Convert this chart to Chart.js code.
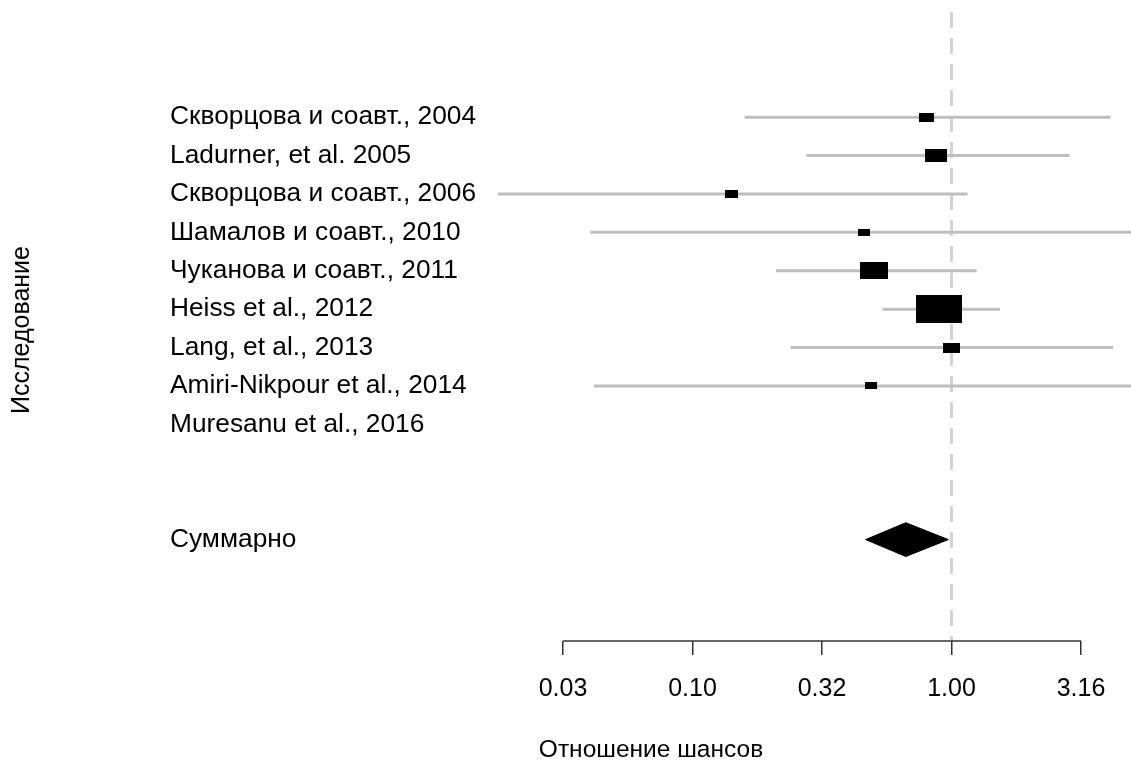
<!DOCTYPE html>
<html>
<head>
<meta charset="utf-8">
<script src="https://cdn.jsdelivr.net/npm/chart.js@4.4.1/dist/chart.umd.min.js"></script>
<style>
html,body{margin:0;padding:0;background:#fff;overflow:hidden}
canvas{display:block}
</style>
</head>
<body>
<canvas id="c" width="1131" height="764"></canvas>
<script>
// ---- data ----
const studies = [
  'Скворцова и соавт., 2004',
  'Ladurner, et al. 2005',
  'Скворцова и соавт., 2006',
  'Шамалов и соавт., 2010',
  'Чуканова и соавт., 2011',
  'Heiss et al., 2012',
  'Lang, et al., 2013',
  'Amiri-Nikpour et al., 2014',
  'Muresanu et al., 2016'
];
const oddsRatio = [0.80, 0.871, 0.1417, 0.461, 0.503, 0.892, 1.00, 0.488, null];
const ciLower   = [0.159, 0.275, 0.0177, 0.0403, 0.210, 0.542, 0.239, 0.0416, null];
const ciUpper   = [4.11, 2.86, 1.153, 7.5, 1.251, 1.539, 4.21, 7.0, null];
const weights   = [9.0, 13.2, 7.6, 7.4, 17.0, 27.6, 10.0, 7.4, null];
const summaryLabel = 'Суммарно';
const summaryOR = [0.666];
const summaryLower = [0.466];
const summaryUpper = [0.972];
const tickExponents = [-1.5, -1, -0.5, 0, 0.5];
const tickLabels = ['0.03', '0.10', '0.32', '1.00', '3.16'];
const xTitle = 'Отношение шансов';
const yTitle = 'Исследование';

// ---- layout / style ----
const FONT = '"Liberation Sans", Arial, sans-serif';
const X_MIN = Math.pow(10, -1.782);
const X_MAX = Math.pow(10, 0.693);
const Y_MIN = -4.64, Y_MAX = 12.05;
const SUMMARY_ROW = -2;
const DIAMOND_HALF = 0.44;
const rows = studies.map((_, i) => studies.length - i);

function boxCanvas(w) {
  const bw = Math.max(2, Math.round(w * 1.667));
  const bh = Math.max(2, Math.round(bw * 0.6));
  const c = document.createElement('canvas');
  c.width = bw; c.height = bh;
  const g = c.getContext('2d');
  g.fillStyle = '#000';
  g.fillRect(0, 0, bw, bh);
  return c;
}

const datasets = [];
// boxes (on top)
const boxPts = [], boxStyles = [];
studies.forEach((s, i) => {
  if (oddsRatio[i] == null) return;
  boxPts.push({x: oddsRatio[i], y: rows[i]});
  boxStyles.push(boxCanvas(weights[i]));
});
datasets.push({
  data: boxPts, pointStyle: boxStyles, pointRadius: 5, pointHoverRadius: 5,
  showLine: false, order: 0
});
// summary diamond
datasets.push({
  data: [
    {x: summaryLower[0], y: SUMMARY_ROW},
    {x: summaryOR[0], y: SUMMARY_ROW + DIAMOND_HALF},
    {x: summaryUpper[0], y: SUMMARY_ROW},
    {x: summaryOR[0], y: SUMMARY_ROW - DIAMOND_HALF},
    {x: summaryLower[0], y: SUMMARY_ROW}
  ],
  showLine: true, fill: 'shape', backgroundColor: '#000', borderColor: '#000',
  borderWidth: 1, pointRadius: 0, tension: 0, order: 0
});
// CI lines
studies.forEach((s, i) => {
  if (ciLower[i] == null) return;
  datasets.push({
    data: [{x: ciLower[i], y: rows[i]}, {x: ciUpper[i], y: rows[i]}],
    showLine: true, borderColor: '#bebebe', borderWidth: 3, pointRadius: 0,
    fill: false, order: 1
  });
});
// reference line at OR = 1
datasets.push({
  data: [{x: 1, y: Y_MAX - 0.31}, {x: 1, y: Y_MIN}],
  showLine: true, borderColor: '#d3d3d3', borderWidth: 3, borderDash: [16, 10],
  pointRadius: 0, fill: false, order: 2
});

const labelByRow = {};
rows.forEach((r, i) => labelByRow[r] = studies[i]);
labelByRow[SUMMARY_ROW] = summaryLabel;

const extras = {
  id: 'extras',
  afterDraw(chart) {
    const ctx = chart.ctx;
    const xs = chart.scales.x;
    const yb = chart.chartArea.bottom;
    ctx.save();
    ctx.strokeStyle = '#333';
    ctx.lineWidth = 1.5;
    ctx.beginPath();
    ctx.moveTo(xs.getPixelForValue(Math.pow(10, tickExponents[0])), yb);
    ctx.lineTo(xs.getPixelForValue(Math.pow(10, tickExponents[tickExponents.length - 1])), yb);
    ctx.stroke();
    ctx.fillStyle = '#000';
    ctx.textAlign = 'center';
    ctx.textBaseline = 'middle';
    ctx.font = '24.5px ' + FONT;
    ctx.fillText(xTitle, 651, 750);
    ctx.font = '25px ' + FONT;
    ctx.translate(22, 330);
    ctx.rotate(-Math.PI / 2);
    ctx.fillText(yTitle, 0, 0);
    ctx.restore();
  }
};

new Chart(document.getElementById('c'), {
  type: 'scatter',
  data: {datasets},
  plugins: [extras],
  options: {
    responsive: false,
    animation: false,
    devicePixelRatio: 1,
    layout: {autoPadding: false, padding: {left: 170, right: 0, top: 0, bottom: 0}},
    plugins: {legend: {display: false}, tooltip: {enabled: false}},
    scales: {
      x: {
        type: 'logarithmic', min: X_MIN, max: X_MAX, bounds: 'data',
        afterBuildTicks(scale) {
          scale.ticks = tickExponents.map(e => ({value: Math.pow(10, e)}));
        },
        afterFit(scale) {
          scale.height = 123;
          scale.paddingLeft = 0; scale.paddingRight = 0;
        },
        ticks: {
          autoSkip: false, maxRotation: 0, padding: 19, color: '#000',
          font: {family: FONT, size: 25},
          callback: (v, i) => tickLabels[i]
        },
        grid: {drawOnChartArea: false, drawTicks: true, tickLength: 14, color: '#333', lineWidth: 1.5},
        border: {display: false}
      },
      y: {
        type: 'linear', min: Y_MIN, max: Y_MAX,
        afterBuildTicks(scale) {
          scale.ticks = rows.concat([SUMMARY_ROW]).map(v => ({value: v}));
        },
        afterFit(scale) {
          scale.width = 320;
          scale.paddingTop = 0; scale.paddingBottom = 0;
        },
        ticks: {
          autoSkip: false, crossAlign: 'far', padding: 0, color: '#000',
          font: {family: FONT, size: 26.3},
          callback: (v) => labelByRow[v]
        },
        grid: {display: false},
        border: {display: false}
      }
    }
  }
});
</script>
</body>
</html>
